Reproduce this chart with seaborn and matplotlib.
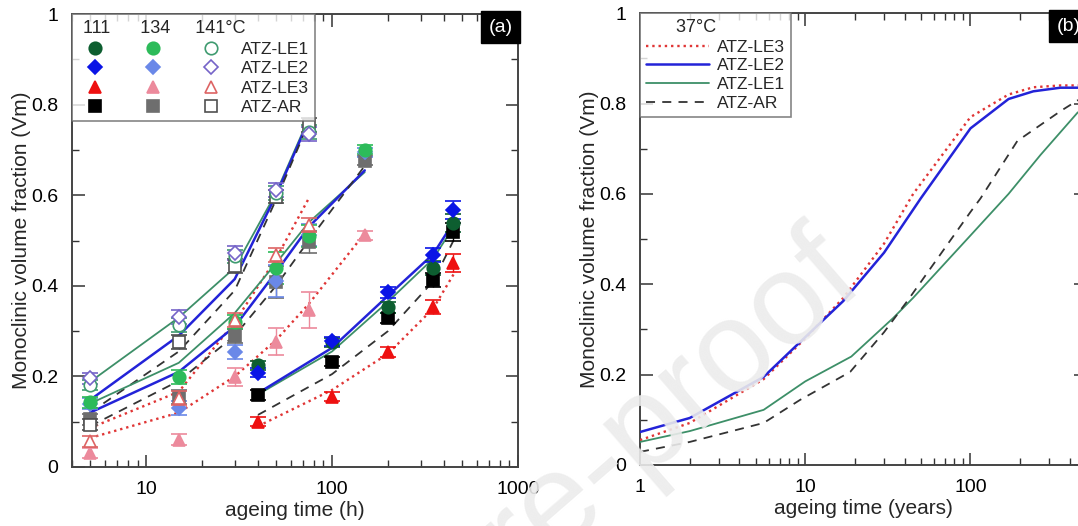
import matplotlib
matplotlib.use('Agg')
import matplotlib.pyplot as plt
import matplotlib.ticker as mticker
from matplotlib.lines import Line2D
import seaborn as sns

sns.set_theme(style='ticks')
plt.rcParams['font.family'] = ['Liberation Sans', 'DejaVu Sans']

##############################
# data
##############################

# (a) measured points, ageing time in hours
t141 = [5, 15, 30, 50, 75]
t134 = [5, 15, 30, 50, 75, 150]
t111 = [40, 100, 200, 350, 450]

le1_141 = [0.181, 0.313, 0.465, 0.605, 0.74]
le2_141 = [0.196, 0.331, 0.472, 0.611, 0.735]
le3_141 = [0.057, 0.152, 0.325, 0.468, 0.534]
ar_141 = [0.093, 0.276, 0.444, 0.597, 0.755]

le1_134 = [0.143, 0.199, 0.32, 0.44, 0.51, 0.70]
le2_134 = [0.14, 0.13, 0.254, 0.41, 0.512, 0.695]
le3_134 = [0.031, 0.06, 0.198, 0.277, 0.347, 0.512]
ar_134 = [0.105, 0.155, 0.289, 0.409, 0.497, 0.676]

le1_111 = [0.225, 0.275, 0.353, 0.439, 0.539]
le2_111 = [0.208, 0.278, 0.386, 0.468, 0.567]
le3_111 = [0.10, 0.155, 0.254, 0.353, 0.45]
ar_111 = [0.159, 0.232, 0.329, 0.413, 0.519]

# error bars
err_141 = [0.012, 0.015, 0.015, 0.015, 0.015]
err_134 = [0.012, 0.015, 0.015, 0.035, 0.025, 0.01]
err_le3_134 = [0.012, 0.012, 0.02, 0.03, 0.04, 0.01]
err_111 = [0.01, 0.01, 0.012, 0.015, 0.02]

# (a) fitted curves
fit_le1_141 = [0.188, 0.33, 0.44, 0.605, 0.77]
fit_le2_141 = [0.148, 0.29, 0.415, 0.60, 0.765]
fit_le3_141 = [0.086, 0.166, 0.32, 0.46, 0.593]
fit_ar_141 = [0.12, 0.255, 0.39, 0.59, 0.76]

fit_le1_134 = [0.14, 0.23, 0.34, 0.45, 0.54, 0.651]
fit_le2_134 = [0.12, 0.21, 0.31, 0.43, 0.53, 0.655]
fit_le3_134 = [0.064, 0.12, 0.2, 0.28, 0.36, 0.516]
fit_ar_134 = [0.09, 0.19, 0.29, 0.40, 0.50, 0.665]

fit_le1_111 = [0.16, 0.255, 0.365, 0.46, 0.53]
fit_le2_111 = [0.163, 0.263, 0.378, 0.47, 0.54]
fit_le3_111 = [0.09, 0.17, 0.25, 0.35, 0.425]
fit_ar_111 = [0.115, 0.205, 0.30, 0.41, 0.50]

# (b) extrapolation at 37C, ageing time in years
yr_le3 = [1, 2, 5.6, 10, 17, 30, 45, 100, 170, 240, 350, 500]
vm_le3 = [0.055, 0.093, 0.19, 0.28, 0.37, 0.49, 0.60, 0.77, 0.82, 0.836, 0.84, 0.84]
yr_le2 = [1, 2, 5.6, 10, 17, 30, 50, 100, 170, 240, 350, 500]
vm_le2 = [0.073, 0.104, 0.195, 0.283, 0.363, 0.47, 0.59, 0.745, 0.81, 0.827, 0.835, 0.835]
yr_le1 = [1, 2, 5.6, 10, 19, 34, 45, 100, 170, 265, 445, 500]
vm_le1 = [0.051, 0.075, 0.122, 0.185, 0.24, 0.325, 0.37, 0.508, 0.60, 0.686, 0.78, 0.79]
yr_ar = [1, 2, 5.6, 9.3, 18.7, 30, 41.5, 100, 115, 192, 350, 445, 500]
vm_ar = [0.029, 0.051, 0.093, 0.144, 0.206, 0.294, 0.363, 0.56, 0.59, 0.717, 0.783, 0.807, 0.81]

##############################
# styles
##############################

c_fit = {'LE1': '#3d8f68', 'LE2': '#2323d8', 'LE3': '#e03535', 'AR': '#333333'}
ls_fit = {'LE1': '-', 'LE2': '-', 'LE3': ':', 'AR': (0, (5, 4))}
lw_fit = {'LE1': 1.3, 'LE2': 1.8, 'LE3': 1.7, 'AR': 1.3}
marker = {'LE1': 'o', 'LE2': 'D', 'LE3': '^', 'AR': 's'}
msize = {'LE1': 9, 'LE2': 7.5, 'LE3': 9, 'AR': 9}
col111 = {'LE1': '#0d5e30', 'LE2': '#0a14e6', 'LE3': '#ee1010', 'AR': '#000000'}
col134 = {'LE1': '#2dbb5a', 'LE2': '#6a88e8', 'LE3': '#ec8a9c', 'AR': '#6e6e6e'}
col141 = {'LE1': '#3f9b70', 'LE2': '#7564c8', 'LE3': '#dd6464', 'AR': '#505050'}

NBSP = '\u00a0'


def draw_points(ax, t, vals, err, key, temp):
    if temp == 141:
        face, edge = 'white', col141[key]
        z = 6
    elif temp == 134:
        face = edge = col134[key]
        z = 5
    else:
        face = edge = col111[key]
        z = 5
    ax.errorbar(t, vals, yerr=err, fmt=marker[key], ms=msize[key], mfc=face, mec=edge,
                mew=1.2, ecolor=edge, elinewidth=1, capsize=6, capthick=1, zorder=z)


def draw_fit(ax, t, vals, key):
    sns.lineplot(x=t, y=vals, ax=ax, color=c_fit[key], linestyle=ls_fit[key],
                 lw=lw_fit[key], estimator=None, sort=False, zorder=4)


def style_axes(ax):
    ax.set_xscale('log')
    ax.set_ylim(0, 1)
    ax.yaxis.set_major_locator(mticker.MultipleLocator(0.2))
    ax.yaxis.set_minor_locator(mticker.MultipleLocator(0.1))
    ax.yaxis.set_major_formatter(mticker.FuncFormatter(
        lambda v, p: '0' if abs(v) < 1e-9 else ('1' if abs(v - 1) < 1e-9 else f'{v:.1f}')))
    ax.xaxis.set_major_formatter(mticker.FuncFormatter(lambda v, p: f'{v:g}'))
    ax.tick_params(which='both', direction='in', top=True, right=True, colors='#333333',
                   labelcolor='black', labelsize=14)
    ax.tick_params(which='major', length=9, width=1.1, pad=10)
    ax.tick_params(which='minor', length=5, width=1.0)
    for s in ax.spines.values():
        s.set_color('#444444')
        s.set_linewidth(1.4)
    ax.set_ylabel('Monoclinic volume fraction (Vm)', fontsize=15, labelpad=0)
    ax.grid(False)


fig = plt.figure(figsize=(10.78, 5.26), dpi=100)
axA = fig.add_axes([0.0668, 0.1122, 0.4137, 0.861])
axB = fig.add_axes([0.5937, 0.116, 0.4137, 0.859])

##############################
# panel (a)
##############################

draw_fit(axA, t141, fit_le1_141, 'LE1')
draw_fit(axA, t141, fit_le2_141, 'LE2')
draw_fit(axA, t141, fit_le3_141, 'LE3')
draw_fit(axA, t141, fit_ar_141, 'AR')
draw_fit(axA, t134, fit_le1_134, 'LE1')
draw_fit(axA, t134, fit_le2_134, 'LE2')
draw_fit(axA, t134, fit_le3_134, 'LE3')
draw_fit(axA, t134, fit_ar_134, 'AR')
draw_fit(axA, t111, fit_le1_111, 'LE1')
draw_fit(axA, t111, fit_le2_111, 'LE2')
draw_fit(axA, t111, fit_le3_111, 'LE3')
draw_fit(axA, t111, fit_ar_111, 'AR')

draw_points(axA, t134, le3_134, err_le3_134, 'LE3', 134)
draw_points(axA, t134, ar_134, err_134, 'AR', 134)
draw_points(axA, t134, le2_134, err_134, 'LE2', 134)
draw_points(axA, t134, le1_134, err_134, 'LE1', 134)
draw_points(axA, t141, le3_141, err_141, 'LE3', 141)
draw_points(axA, t141, ar_141, err_141, 'AR', 141)
draw_points(axA, t141, le1_141, err_141, 'LE1', 141)
draw_points(axA, t141, le2_141, err_141, 'LE2', 141)
draw_points(axA, t111, le3_111, err_111, 'LE3', 111)
draw_points(axA, t111, ar_111, err_111, 'AR', 111)
draw_points(axA, t111, le1_111, err_111, 'LE1', 111)
draw_points(axA, t111, le2_111, err_111, 'LE2', 111)

style_axes(axA)
axA.set_xlim(4, 1000)
axA.set_xlabel('ageing time (h)', fontsize=15, labelpad=2)

handles, labels = [], []
for cols, temp in [(col111, 111), (col134, 134), (col141, 141)]:
    for key, name in [('LE1', 'ATZ-LE1'), ('LE2', 'ATZ-LE2'), ('LE3', 'ATZ-LE3'), ('AR', 'ATZ-AR')]:
        face = 'white' if temp == 141 else cols[key]
        handles.append(Line2D([], [], ls='none', marker=marker[key], ms=msize[key],
                              mfc=face, mec=cols[key], mew=1.2))
        labels.append(name if temp == 141 else '')
legA = axA.legend(handles, labels, ncol=3, loc='upper left', bbox_to_anchor=(0, 1),
                  borderaxespad=0, frameon=True, fancybox=False, fontsize=12.5,
                  title=NBSP + '111' + NBSP * 6 + '134' + NBSP * 5 + '141°C', title_fontsize=13,
                  handlelength=2.0, handletextpad=0.72, columnspacing=0.61,
                  labelspacing=0.25, borderpad=0.35)
legA._legend_box.align = 'left'
legA.get_frame().set_edgecolor('#666666')
legA.get_frame().set_linewidth(1.2)
legA.set_zorder(10)

axA.text(0.988, 0.99, '(a)', transform=axA.transAxes, ha='right', va='top', fontsize=14,
         color='white', bbox=dict(facecolor='black', edgecolor='black', boxstyle='square,pad=0.4'))

##############################
# panel (b)
##############################

draw_fit(axB, yr_le3, vm_le3, 'LE3')
draw_fit(axB, yr_le2, vm_le2, 'LE2')
draw_fit(axB, yr_le1, vm_le1, 'LE1')
draw_fit(axB, yr_ar, vm_ar, 'AR')

style_axes(axB)
axB.set_xlim(1, 500)
axB.set_xlabel('ageing time (years)', fontsize=15, labelpad=2)

hB = [Line2D([], [], color=c_fit[k], ls=ls_fit[k], lw=lw_fit[k]) for k in ['LE3', 'LE2', 'LE1', 'AR']]
legB = axB.legend(hB, ['ATZ-LE3', 'ATZ-LE2', 'ATZ-LE1', 'ATZ-AR'], loc='upper left',
                  bbox_to_anchor=(0, 1), borderaxespad=0, frameon=True, fancybox=False,
                  fontsize=12.5, title=NBSP * 6 + '37°C', title_fontsize=13, handlelength=3.6,
                  handletextpad=0.5, labelspacing=0.2, borderpad=0.35)
legB._legend_box.align = 'left'
legB.get_frame().set_edgecolor('#666666')
legB.get_frame().set_linewidth(1.2)

axB.text(0.988, 0.99, '(b)', transform=axB.transAxes, ha='right', va='top', fontsize=14,
         color='white', bbox=dict(facecolor='black', edgecolor='black', boxstyle='square,pad=0.4'))

# watermark of the source document
fig.text(0.805, 0.454, 'Journal Pre-proof', rotation=41, rotation_mode='anchor', ha='right',
         va='baseline', fontsize=94, color='#ececec', alpha=0.9, zorder=100)

plt.savefig('out.png', dpi=100)
